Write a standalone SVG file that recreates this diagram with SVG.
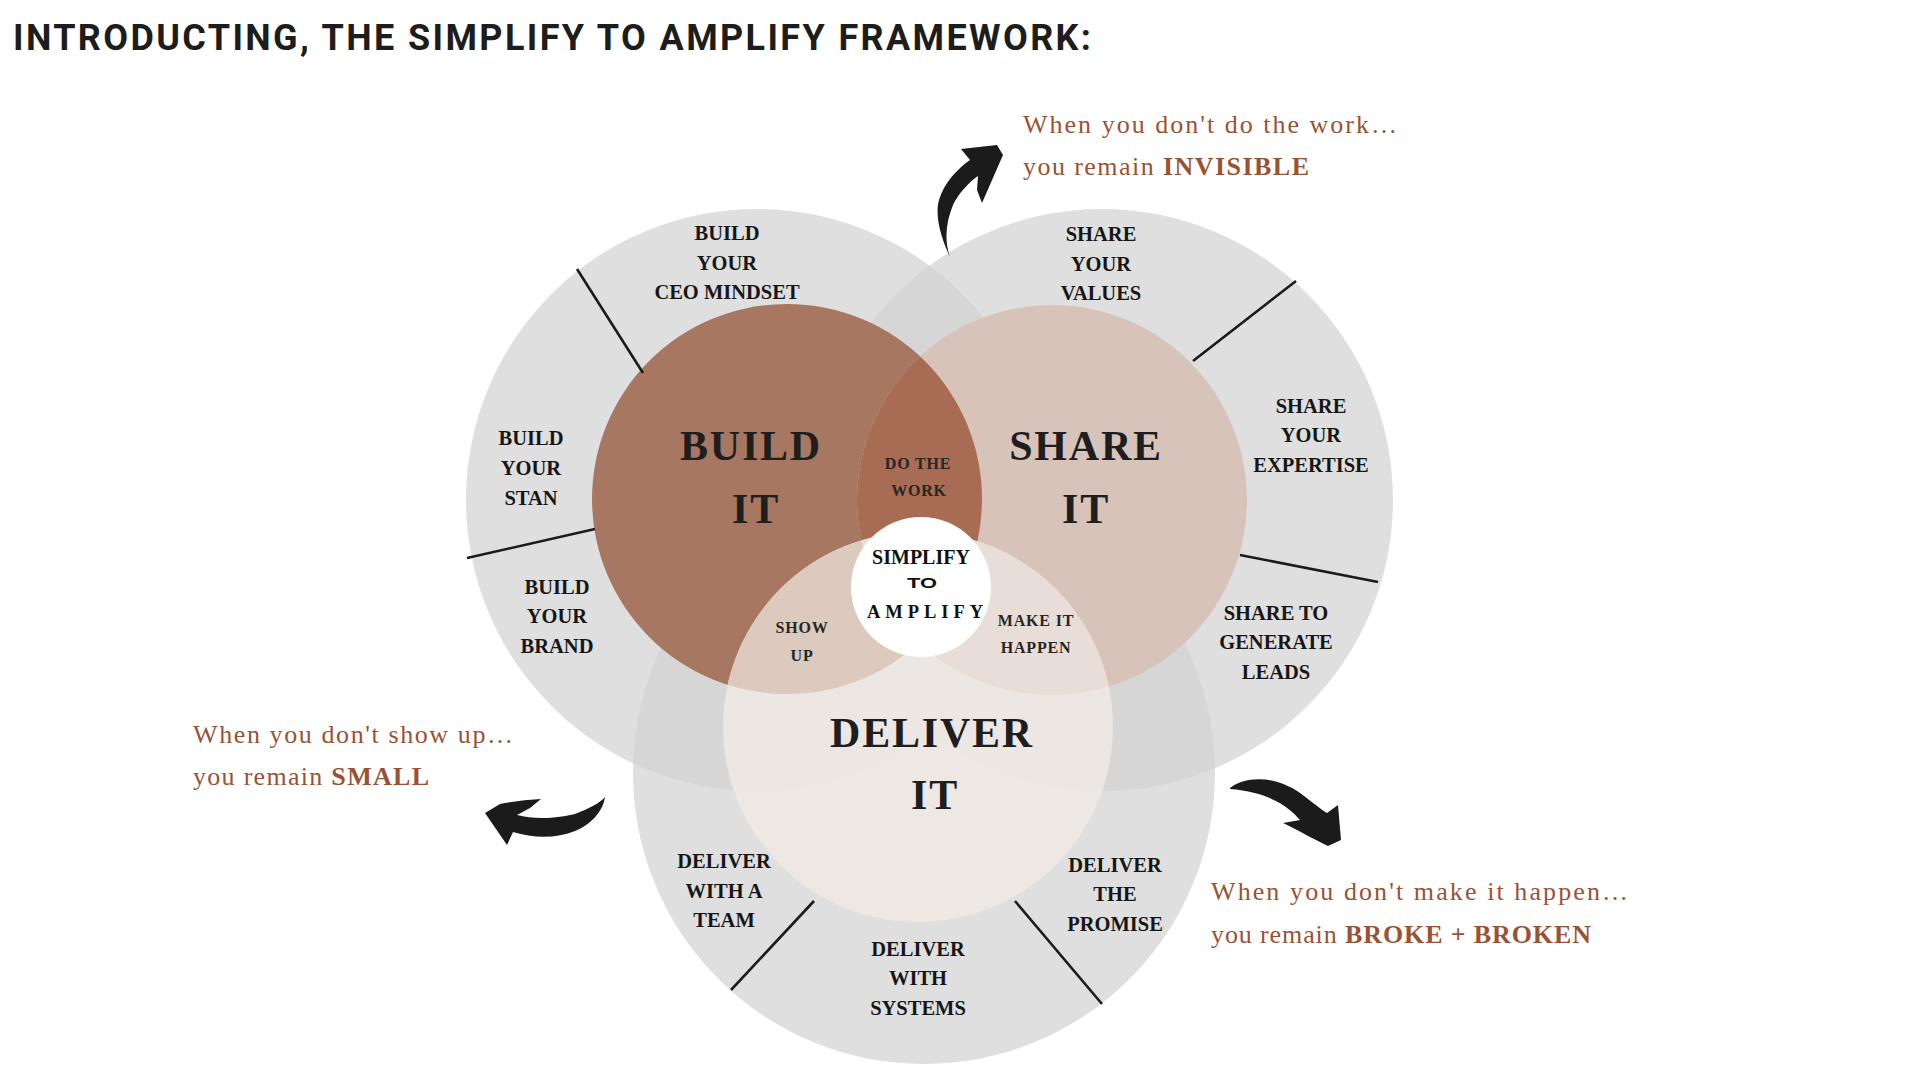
<svg xmlns="http://www.w3.org/2000/svg" width="1920" height="1080" viewBox="0 0 1920 1080">
<style>
.gray{fill:#d2d2d2;fill-opacity:0.7}
.div{stroke:#1b1b1b;stroke-width:2.6;fill:none}
.lab{font-family:"Liberation Serif","DejaVu Serif",serif;font-weight:700;font-size:20.5px;fill:#161616;text-anchor:middle}
.small{font-family:"Liberation Serif","DejaVu Serif",serif;font-weight:700;font-size:16px;fill:#262626;text-anchor:middle;letter-spacing:0.8px}
.big{font-family:"Liberation Serif","DejaVu Serif",serif;font-weight:700;font-size:42px;fill:#1e1e1e;text-anchor:middle;letter-spacing:1.8px}
.quote{font-family:"Liberation Serif","DejaVu Serif",serif;font-size:26px;fill:#9a5234}
.quote tspan.b{font-weight:700}
.arrow{fill:#1b1b1b}
</style>
<defs>
<clipPath id="cBuild"><circle cx="787" cy="499" r="195"/></clipPath>
<clipPath id="cShare"><circle cx="1052" cy="500" r="195"/></clipPath>
</defs>
<rect width="1920" height="1080" fill="#ffffff"/>
<text x="13" y="50" font-family="Roboto,'Liberation Sans',sans-serif" font-weight="700" font-size="36" fill="#1d1d1d" textLength="1078" lengthAdjust="spacing">INTRODUCTING, THE SIMPLIFY TO AMPLIFY FRAMEWORK:</text>

<g id="outer-rings">
<circle class="gray" cx="757" cy="500" r="291"/>
<circle class="gray" cx="1102" cy="500" r="291"/>
<circle class="gray" cx="924" cy="773" r="291"/>
</g>

<g id="build-it">
<circle cx="787" cy="499" r="195" fill="#a87762"/>
</g>
<g id="share-it">
<circle cx="1052" cy="500" r="195" fill="#d8c3bb"/>
</g>
<g id="do-the-work-area">
<circle cx="1052" cy="500" r="195" fill="#a76c53" clip-path="url(#cBuild)"/>
</g>
<g id="deliver-it">
<circle cx="918" cy="727" r="195" fill="#efe9e5" fill-opacity="0.9"/>
</g>
<g id="show-up-area">
<circle cx="918" cy="727" r="195" fill="#dccabe" clip-path="url(#cBuild)"/>
</g>
<g id="make-it-happen-area">
<circle cx="918" cy="727" r="195" fill="#e9ddd7" clip-path="url(#cShare)"/>
</g>
<g id="center">
<circle cx="921" cy="587" r="70" fill="#ffffff"/>
<text x="921" y="564" font-family="'Liberation Serif',serif" font-weight="700" font-size="20" fill="#111" text-anchor="middle">SIMPLIFY</text>
<text x="907" y="588" font-family="'Liberation Sans',Arial,sans-serif" font-weight="900" font-size="14" fill="#111" textLength="30" lengthAdjust="spacingAndGlyphs">TO</text>
<text x="867" y="618" font-family="'Liberation Serif',serif" font-weight="700" font-size="18.5" fill="#111" textLength="116" lengthAdjust="spacing">AMPLIFY</text>
</g>

<g id="connectors">
<line class="div" x1="577" y1="269" x2="643" y2="373"/>
<line class="div" x1="467" y1="558" x2="595" y2="529"/>
<line class="div" x1="1193" y1="361" x2="1296" y2="281"/>
<line class="div" x1="1240" y1="555" x2="1378" y2="582"/>
<line class="div" x1="814" y1="901" x2="731" y2="990"/>
<line class="div" x1="1015" y1="901" x2="1102" y2="1004"/>
</g>

<g id="big-labels">
<text class="big" x="751" y="460">BUILD</text>
<text class="big" x="756" y="523">IT</text>
<text class="big" x="1086" y="460">SHARE</text>
<text class="big" x="1086" y="523">IT</text>
<text class="big" x="932" y="747">DELIVER</text>
<text class="big" x="935" y="809">IT</text>
</g>

<g id="overlap-labels">
<text class="small" x="918" y="469">DO THE</text>
<text class="small" x="919" y="496">WORK</text>
<text class="small" x="802" y="633">SHOW</text>
<text class="small" x="802" y="661">UP</text>
<text class="small" x="1036" y="626">MAKE IT</text>
<text class="small" x="1036" y="653">HAPPEN</text>
</g>

<g id="label-build-ceo"><text class="lab" x="727" y="240">BUILD</text><text class="lab" x="727" y="269.5">YOUR</text><text class="lab" x="727" y="299">CEO MINDSET</text></g>
<g id="label-build-stan"><text class="lab" x="531" y="445">BUILD</text><text class="lab" x="531" y="475">YOUR</text><text class="lab" x="531" y="504.5">STAN</text></g>
<g id="label-build-brand"><text class="lab" x="557" y="594">BUILD</text><text class="lab" x="557" y="623">YOUR</text><text class="lab" x="557" y="652.5">BRAND</text></g>
<g id="label-share-values"><text class="lab" x="1101" y="241">SHARE</text><text class="lab" x="1101" y="270.5">YOUR</text><text class="lab" x="1101" y="300">VALUES</text></g>
<g id="label-share-expertise"><text class="lab" x="1311" y="412.5">SHARE</text><text class="lab" x="1311" y="442">YOUR</text><text class="lab" x="1311" y="471.5">EXPERTISE</text></g>
<g id="label-share-leads"><text class="lab" x="1276" y="619.5">SHARE TO</text><text class="lab" x="1276" y="649">GENERATE</text><text class="lab" x="1276" y="678.5">LEADS</text></g>
<g id="label-deliver-team"><text class="lab" x="724" y="868">DELIVER</text><text class="lab" x="724" y="897.5">WITH A</text><text class="lab" x="724" y="927">TEAM</text></g>
<g id="label-deliver-systems"><text class="lab" x="918" y="955.5">DELIVER</text><text class="lab" x="918" y="985">WITH</text><text class="lab" x="918" y="1014.5">SYSTEMS</text></g>
<g id="label-deliver-promise"><text class="lab" x="1115" y="872">DELIVER</text><text class="lab" x="1115" y="901">THE</text><text class="lab" x="1115" y="930.5">PROMISE</text></g>

<g id="note-invisible">
<text class="quote" x="1023" y="133" textLength="374" lengthAdjust="spacing">When you don't do the work…</text>
<text class="quote" x="1023" y="175" textLength="286" lengthAdjust="spacing">you remain <tspan class="b">INVISIBLE</tspan></text>
</g>
<g id="note-small">
<text class="quote" x="193" y="743" textLength="320" lengthAdjust="spacing">When you don't show up…</text>
<text class="quote" x="193" y="785" textLength="236" lengthAdjust="spacing">you remain <tspan class="b">SMALL</tspan></text>
</g>
<g id="note-broke">
<text class="quote" x="1211" y="900" textLength="417" lengthAdjust="spacing">When you don't make it happen…</text>
<text class="quote" x="1211" y="942.5" textLength="380" lengthAdjust="spacing">you remain <tspan class="b">BROKE + BROKEN</tspan></text>
</g>

<g id="arrows">
<path class="arrow" d="M950,257 C943,242 934,218 939,200 C944,183 957,169 970,160 L961,149 L997,145 L1003,155 L982,203 L977,190 L978,176 C969,182 958,194 953,205 C946,222 944,240 950,257 Z"/>
<path class="arrow" d="M485,813 L500,804 Q520,800 541,799 L530,808 L517,815 C535,820 560,818 575,814 C590,808 600,803 605,797 C603,812 590,825 575,831 C558,838 535,839 513,832 L507,845 Z"/>
<path class="arrow" d="M1230,788 C1245,776 1275,775 1300,793 C1312,802 1322,810 1327,813 L1338,805 L1341,840 L1328,846 C1315,840 1298,830 1283,823 L1300,820 C1290,808 1270,792 1230,789 Z"/>
</g>
</svg>
